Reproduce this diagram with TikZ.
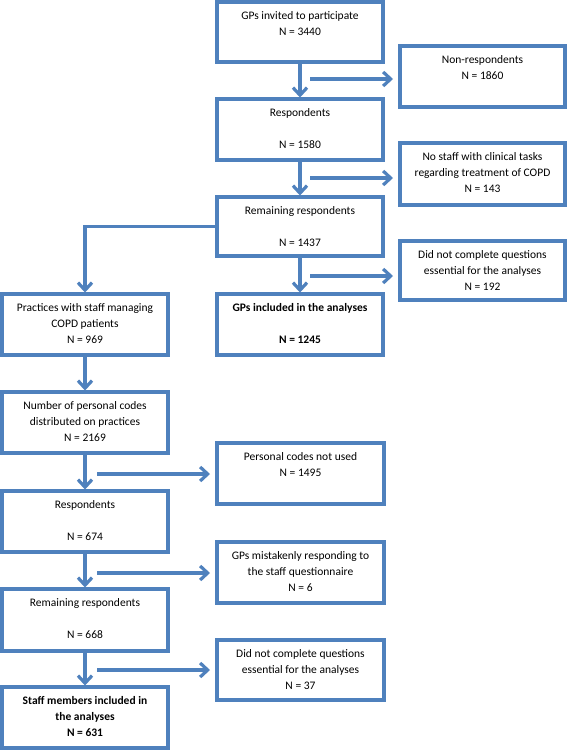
\documentclass[tikz,border=0pt]{standalone}
\usepackage{fontspec}
\setmainfont{Carlito}
\usetikzlibrary{arrows.meta}
\definecolor{flow}{RGB}{79,129,189}
\newcommand\flowbox[6]{%
  \node[box, minimum width={#4pt-#2pt}, minimum height={#5pt-#3pt}] (#1) at ({(#2+#4)/2},{(#3+#5)/2}) {};
  \node[lbl] (#1t) at ([yshift=-9.5pt]#1.north) {#6};}
\begin{document}
\begin{tikzpicture}[x=1pt,y=-1pt,
  box/.style={draw=flow, line width=3.2pt, inner sep=0pt, outer sep=0pt, fill=white},
  lbl/.style={anchor=north, align=center, inner sep=0pt, font=\fontsize{11.5}{16}\selectfont, execute at begin node=\strut},
  conn/.style={draw=flow, line width=3.2pt, -{Straight Barb[length=7.5pt,width=14pt]}}]
\useasboundingbox[fill=white] (0,0) rectangle (567,750);

\flowbox{A}{217}{2}{383}{62}{GPs invited to participate\\N = 3440}
\flowbox{B}{400}{46}{565}{107}{Non-respondents\\N = 1860}
\flowbox{C}{217}{99}{383}{160}{Respondents\\[16pt]N = 1580}
\flowbox{D}{400}{143}{565}{205}{No staff with clinical tasks\\regarding treatment of COPD\\N = 143}
\flowbox{E}{217}{197}{383}{256}{Remaining respondents\\[16pt]N = 1437}
\flowbox{F}{400}{241}{565}{300}{Did not complete questions\\essential for the analyses\\N = 192}
\flowbox{G}{217}{294}{383}{355}{\bfseries GPs included in the analyses\\[16pt]\bfseries N = 1245}
\flowbox{H}{2}{294}{168}{355}{Practices with staff managing\\COPD patients\\N = 969}
\flowbox{I}{2}{392}{168}{453}{Number of personal codes\\distributed on practices\\N = 2169}
\flowbox{J}{217}{443}{384}{504}{Personal codes not used\\N = 1495}
\flowbox{K}{2}{491}{168}{552}{Respondents\\[16pt]N = 674}
\flowbox{L}{217}{542}{384}{603}{GPs mistakenly responding to\\the staff questionnaire\\N = 6}
\flowbox{M}{2}{589}{168}{651}{Remaining respondents\\[16pt]N = 668}
\flowbox{N}{217}{640}{384}{700}{Did not complete questions\\essential for the analyses\\N = 37}
\flowbox{O}{2}{687}{168}{748}{\bfseries Staff members included in\\\bfseries the analyses\\\bfseries N = 631}

% main vertical flow (GPs)
\draw[conn, shorten >=1.5pt] (A.south) -- (C.north);
\draw[conn, shorten >=1.5pt] (C.south) -- (E.north);
\draw[conn, shorten >=1.5pt] (E.south) -- (G.north);
% exclusions (GPs)
\coordinate (h1) at (310,79);
\coordinate (h2) at (310,178);
\coordinate (h3) at (310,276);
\draw[conn, shorten >=7pt] (h1) -- (h1 -| B.west);
\draw[conn, shorten >=7pt] (h2) -- (h2 -| D.west);
\draw[conn, shorten >=7pt] (h3) -- (h3 -| F.west);
% branch to staff
\draw[conn, shorten >=1.5pt] (E.west) -| (H.north);
% staff vertical flow
\draw[conn, shorten >=1.5pt] (H.south) -- (I.north);
\draw[conn, shorten >=1.5pt] (I.south) -- (K.north);
\draw[conn, shorten >=1.5pt] (K.south) -- (M.north);
\draw[conn, shorten >=1.5pt] (M.south) -- (O.north);
% exclusions (staff)
\coordinate (h4) at (97,474);
\coordinate (h5) at (97,573);
\coordinate (h6) at (97,670);
\draw[conn, shorten >=7pt] (h4) -- (h4 -| J.west);
\draw[conn, shorten >=7pt] (h5) -- (h5 -| L.west);
\draw[conn, shorten >=7pt] (h6) -- (h6 -| N.west);
\end{tikzpicture}
\end{document}
